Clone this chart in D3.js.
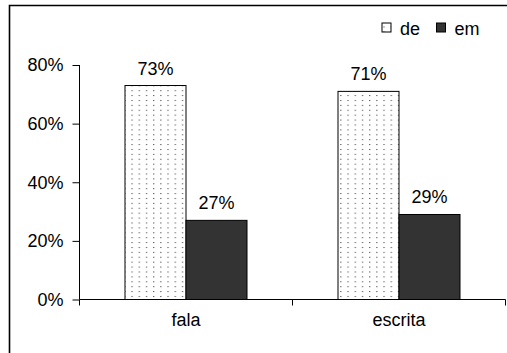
<!DOCTYPE html>
<html>
<head>
<meta charset="utf-8">
<script src="https://cdn.jsdelivr.net/npm/d3@7"></script>
<style>
  html, body { margin: 0; padding: 0; background: #fff; }
  svg { display: block; font-family: "Liberation Sans", Arial, sans-serif; }
</style>
</head>
<body>
<svg id="chart" width="507" height="353"></svg>
<script>
// Share of "de" vs "em" by register
const categories = ["fala", "escrita"];
const seriesNames = ["de", "em"];
const deValues = [73, 71];
const emValues = [27, 29];
const yTicks = [0, 20, 40, 60, 80];

const svg = d3.select("#chart");
const W = 507, H = 353;
const FS = 18;

// dotted fill used by the "de" series
const defs = svg.append("defs");
const pat = defs.append("pattern")
  .attr("id", "dots")
  .attr("patternUnits", "userSpaceOnUse")
  .attr("width", 7.2).attr("height", 4.9);
pat.append("rect").attr("width", 7.2).attr("height", 4.9).attr("fill", "#fff");
pat.append("rect").attr("x", 2).attr("y", 2).attr("width", 1).attr("height", 1).attr("fill", "#222");

// outer frame (left and top edges)
svg.append("path")
  .attr("d", `M9.5,${H} V5.5 H${W}`)
  .attr("fill", "none").attr("stroke", "#000").attr("stroke-width", 1.6);

const x0 = 79.5, x1 = 505.5, yBase = 299.5, yTop = 65;
const x = d3.scaleBand().domain(categories).range([x0, x1]).paddingInner(0).paddingOuter(0);
const y = d3.scaleLinear().domain([0, 80]).range([yBase, yTop]);
const barW = 61;

const data = categories.map((c, i) => ({ cat: c, vals: [deValues[i], emValues[i]] }));

const g = svg.append("g");
data.forEach(d => {
  const cx = x(d.cat) + x.bandwidth() / 2;
  d.vals.forEach((v, j) => {
    const bx = cx - barW + j * barW;
    g.append("rect")
      .attr("x", bx).attr("y", y(v))
      .attr("width", barW).attr("height", y(0) - y(v))
      .attr("fill", j === 0 ? "url(#dots)" : "#333333")
      .attr("stroke", "#000").attr("stroke-width", 1);
    g.append("text")
      .attr("x", bx + barW / 2).attr("y", y(v) - 11)
      .attr("text-anchor", "middle")
      .attr("font-size", FS).attr("fill", "#000")
      .text(v + "%");
  });
});

// y axis
const yAxis = d3.axisLeft(y).tickValues(yTicks).tickFormat(d => d + "%").tickSize(7).tickPadding(9);
const ya = svg.append("g").attr("transform", `translate(${x0},0)`).call(yAxis);
ya.select(".domain").attr("d", `M-0,${yTop}V${yBase}`).attr("stroke", "#000");
ya.selectAll("text").attr("font-size", FS).attr("fill", "#000").attr("font-family", "Liberation Sans, Arial, sans-serif");
ya.selectAll("line").attr("stroke", "#000");

// x axis: ticks at band boundaries, labels centred in bands
const xa = svg.append("g").attr("transform", `translate(0,${yBase})`);
xa.append("line").attr("x1", x0).attr("x2", x1).attr("stroke", "#000");
const bounds = [x0, x0 + x.bandwidth(), x1];
xa.selectAll("line.tk").data(bounds).enter().append("line")
  .attr("class", "tk").attr("x1", d => d).attr("x2", d => d)
  .attr("y1", 0).attr("y2", 6).attr("stroke", "#000");
xa.selectAll("text").data(categories).enter().append("text")
  .attr("x", d => x(d) + x.bandwidth() / 2).attr("y", 26)
  .attr("text-anchor", "middle").attr("font-size", FS).attr("fill", "#000")
  .text(d => d);

// legend
const leg = svg.append("g");
const legX = [382, 436.5];
seriesNames.forEach((s, i) => {
  leg.append("rect").attr("x", legX[i]).attr("y", 23).attr("width", 9).attr("height", 9)
    .attr("fill", i === 0 ? "url(#dots)" : "#333333").attr("stroke", "#000").attr("stroke-width", 1);
  leg.append("text").attr("x", legX[i] + 18).attr("y", 35)
    .attr("font-size", FS).attr("fill", "#000").text(s);
});
</script>
</body>
</html>
